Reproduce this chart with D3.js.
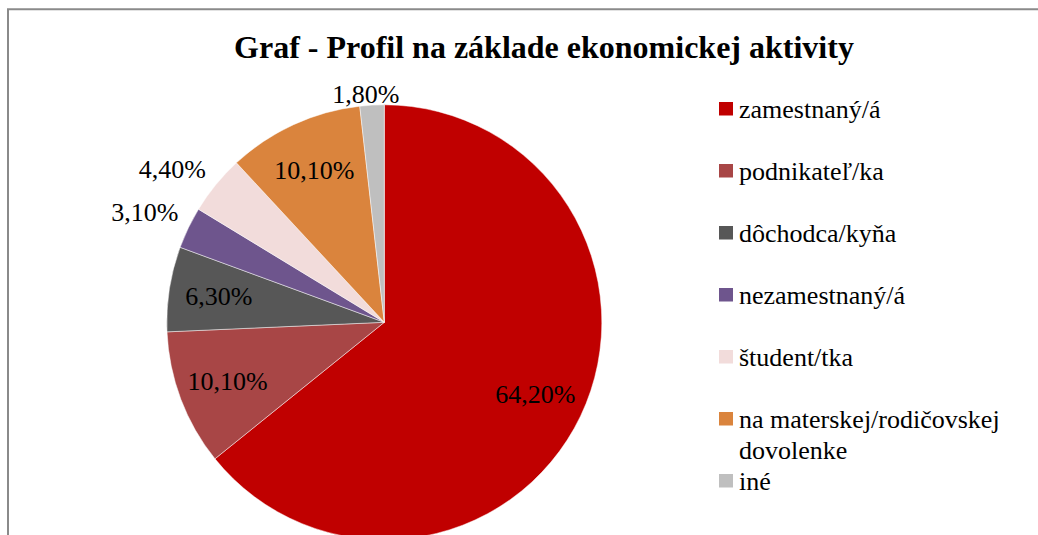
<!DOCTYPE html>
<html><head><meta charset="utf-8">
<script src="https://cdn.jsdelivr.net/npm/d3@7"></script>
<style>html,body{margin:0;padding:0;background:#fff;overflow:hidden}</style>
</head><body>
<svg id="c" width="1038" height="535"></svg>
<script>
const categories = ["zamestnaný/á","podnikateľ/ka","dôchodca/kyňa","nezamestnaný/á","študent/tka","na materskej/rodičovskej dovolenke","iné"];
const values = [64.2, 10.1, 6.3, 3.1, 4.4, 10.1, 1.8];
const valueLabels = ["64,20%","10,10%","6,30%","3,10%","4,40%","10,10%","1,80%"];
const legendLines = [["zamestnaný/á"],["podnikateľ/ka"],["dôchodca/kyňa"],["nezamestnaný/á"],["študent/tka"],["na materskej/rodičovskej","dovolenke"],["iné"]];
const colors = ["#C00000","#A84646","#575757","#6E558D","#F2DCDB","#DA843D","#BFBFBF"];

const svg = d3.select("#c");
const font = "'Liberation Serif','Times New Roman',serif";

// border
svg.append("path").attr("d","M8,540 L8,9.3 L1045,9.3").attr("fill","none").attr("stroke","#8a8a8a").attr("stroke-width",2);

// title
svg.append("text").attr("x",544).attr("y",58).attr("text-anchor","middle")
  .attr("font-family",font).attr("font-weight","bold").attr("font-size",32).attr("fill","#000")
  .text("Graf - Profil na základe ekonomickej aktivity");

const cx = 384.3, cy = 322.3, R = 217.5;
const g = svg.append("g").attr("transform",`translate(${cx},${cy})`);
const pie = d3.pie().sort(null).value(d=>d)(values);
const arc = d3.arc().innerRadius(0).outerRadius(R);
const color = d3.scaleOrdinal().domain(categories).range(colors);

g.selectAll("path.s").data(pie).join("path").attr("class","s")
  .attr("d",arc).attr("fill",(d,i)=>color(categories[i]))
  .attr("stroke","#ffffff").attr("stroke-opacity",0.6).attr("stroke-width",0.8);

// labels
const fs = 26;
const outside = d => (d.endAngle - d.startAngle) < 0.3;
const plotTop = 86 - cy;
const clamp = v => Math.max(-1, Math.min(1, v));
g.selectAll("text.l").data(pie).join("text").attr("class","l")
  .attr("font-family",font).attr("font-size",fs).attr("fill","#000").attr("text-anchor","middle")
  .text((d,i)=>valueLabels[i])
  .each(function(d){
    const a = (d.startAngle + d.endAngle)/2;
    const dx = Math.sin(a), dy = -Math.cos(a);
    const w = this.getComputedTextLength();
    const hh = fs*0.33;
    let x, y;
    if (outside(d)) {
      x = dx*R + clamp(dx*2.5)*(w/2 + 10);
      y = dy*R + clamp(dy*2.5)*(hh + 7);
      if (y - hh < plotTop) y = plotTop + hh;
    } else {
      const r = R*0.77;
      x = dx*r; y = dy*r;
    }
    d3.select(this).attr("x",x).attr("y",y + hh);
  });

// legend
const lg = svg.append("g");
const rowY = d3.scaleLinear().domain([0,1]).range([102,164]);
legendLines.forEach((lines,i)=>{
  const top = rowY(i);
  lg.append("rect").attr("x",719).attr("y",top).attr("width",14).attr("height",13.5).attr("fill",colors[i]);
  const t = lg.append("text").attr("font-family",font).attr("font-size",26).attr("fill","#000");
  lines.forEach((ln,j)=>{
    t.append("tspan").attr("x",739).attr("y",top+16+j*31).text(ln);
  });
});
</script>
</body></html>
